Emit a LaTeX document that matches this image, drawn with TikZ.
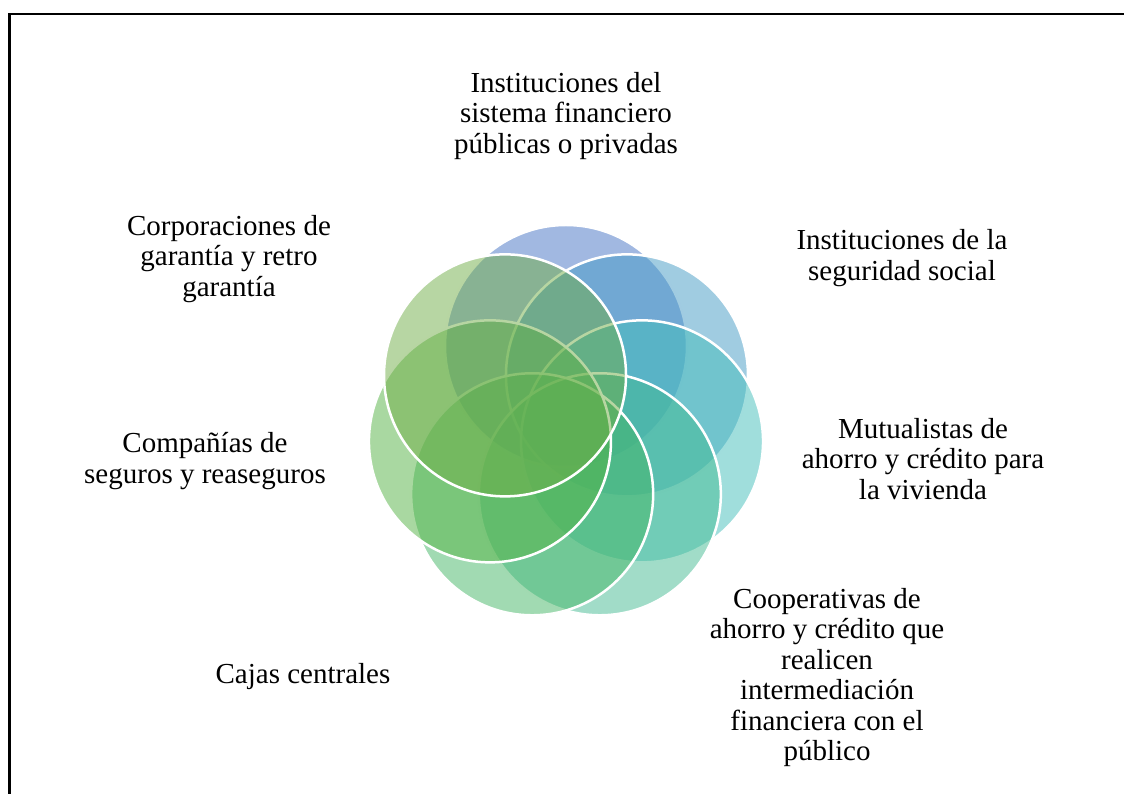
\documentclass[tikz,border=0pt]{standalone}
\usepackage{fontspec}
\setmainfont{Liberation Serif}
\usepackage{tikz}
\usetikzlibrary{positioning}
\definecolor{c1}{HTML}{4472C4}
\definecolor{c2}{HTML}{4299C4}
\definecolor{c3}{HTML}{42BDBA}
\definecolor{c4}{HTML}{43BA92}
\definecolor{c5}{HTML}{44B565}
\definecolor{c6}{HTML}{53B243}
\definecolor{c7}{HTML}{70AD47}
\begin{document}
\begin{tikzpicture}[x=1pt,y=1pt,
  petal/.style={circle,minimum size=242pt,inner sep=0pt,draw=white,line width=2.5pt,fill opacity=0.5},
  lbl/.style={align=center,font=\fontsize{29}{30.5}\selectfont,inner sep=0pt}]
\useasboundingbox (-566,-370) rectangle (558,424);
\draw[line width=2.4pt] (570,410) -- (-556.5,410) -- (-556.5,-380);
% the seven circles, drawn clockwise from the top
\node[petal,fill=c1] (p1) at (90:78) {};
\node[petal,fill=c2] (p2) at (38.57:78) {};
\node[petal,fill=c3] (p3) at (-12.86:78) {};
\node[petal,fill=c4] (p4) at (-64.29:78) {};
\node[petal,fill=c5] (p5) at (-115.71:78) {};
\node[petal,fill=c6] (p6) at (-167.14:78) {};
\node[petal,fill=c7] (p7) at (141.43:78) {};
% labels
\node[lbl] (t1) at (0,308) {Instituciones del\\sistema financiero\\públicas o privadas};
\node[lbl] (t2) at (336,166) {Instituciones de la\\seguridad social};
\node[lbl] (t3) at (357,-35) {Mutualistas de\\ahorro y crédito para\\la vivienda};
\node[lbl] (t4) at (261,-253.5) {Cooperativas de\\ahorro y crédito que\\realicen\\intermediación\\financiera con el\\público};
\node[lbl] (t5) at (-263,-253) {Cajas centrales};
\node[lbl] (t6) at (-361,-37) {Compañías de\\seguros y reaseguros};
\node[lbl] (t7) at (-337,165) {Corporaciones de\\garantía y retro\\garantía};
\end{tikzpicture}
\end{document}
